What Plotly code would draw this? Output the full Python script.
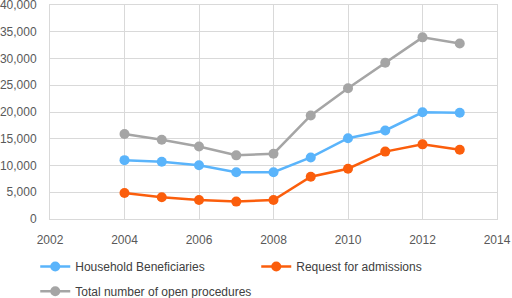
import plotly.graph_objects as go

years = [2004, 2005, 2006, 2007, 2008, 2009, 2010, 2011, 2012, 2013]
household = [11000, 10700, 10050, 8750, 8750, 11500, 15100, 16550, 19950, 19850]
requests = [4870, 4050, 3550, 3250, 3550, 7900, 9400, 12600, 13950, 12950]
total = [15900, 14800, 13550, 11900, 12200, 19350, 24450, 29200, 33950, 32800]
names = ["Household Beneficiaries", "Request for admissions", "Total number of open procedures"]
colors = ["#5ab4fb", "#fb5e0c", "#a5a5a5"]
legends = ["legend", "legend", "legend2"]

fig = go.Figure()
for name, vals, c, lg in zip(names, [household, requests, total], colors, legends):
    fig.add_trace(go.Scatter(x=years, y=vals, name=name, mode="lines+markers",
                             line=dict(color=c, width=2.5),
                             marker=dict(color=c, size=10), legend=lg))

lfont = dict(family="Liberation Sans", size=12, color="#404040")
fig.update_layout(
    width=512, height=298,
    margin=dict(l=50, r=15, t=5, b=79, autoexpand=False),
    paper_bgcolor="white", plot_bgcolor="white",
    font=dict(family="Liberation Sans", size=12, color="#595959"),
    showlegend=True,
    legend=dict(orientation="h", x=-0.033, xanchor="left", y=-0.154, yanchor="top",
                entrywidth=176, font=lfont, itemwidth=30),
    legend2=dict(orientation="h", x=-0.033, xanchor="left", y=-0.270, yanchor="top",
                 font=lfont, itemwidth=30),
)
fig.update_xaxes(range=[2002, 2014], dtick=2, showgrid=True, gridcolor="#d9d9d9",
                 gridwidth=1, zeroline=False, showline=True, linecolor="#d9d9d9",
                 mirror=True, ticks="", ticklabelstandoff=10, ticklabeloverflow="allow",
                 automargin=False, tickfont=dict(size=12))
fig.update_yaxes(range=[0, 40000], dtick=5000, tickformat=",", showgrid=True,
                 gridcolor="#d9d9d9", gridwidth=1, zeroline=False, showline=True,
                 linecolor="#d9d9d9", mirror=True, ticks="", ticklabelstandoff=10,
                 ticklabeloverflow="allow", automargin=False, tickfont=dict(size=12))

fig.write_html("out.html", config={"displayModeBar": False},
               post_script="document.body.style.margin='0';")
